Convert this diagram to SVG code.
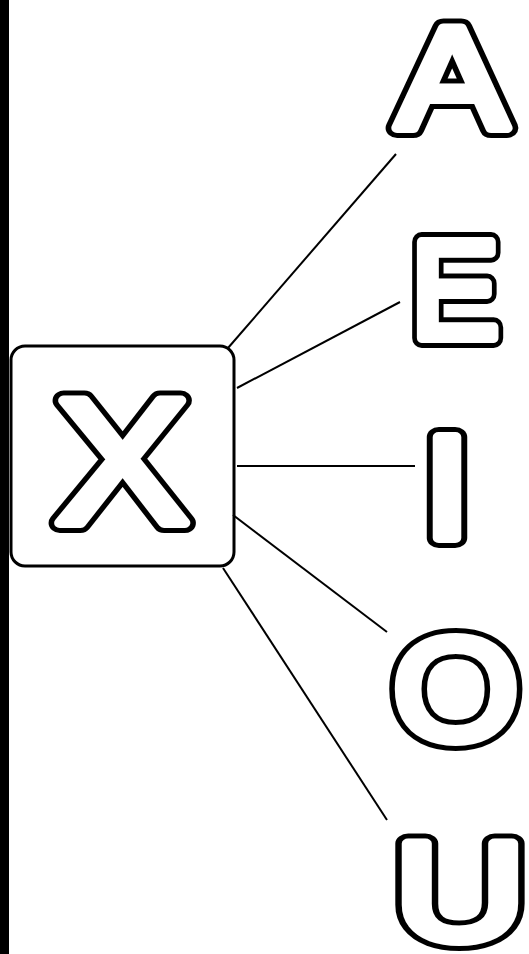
<svg xmlns="http://www.w3.org/2000/svg" width="529" height="954" viewBox="0 0 529 954">
<style>
.o{font-family:"Liberation Sans",Arial,sans-serif;text-anchor:middle;fill:#000;stroke:#000;stroke-width:20;stroke-linejoin:round;stroke-linecap:round}
.i{font-family:"Liberation Sans",Arial,sans-serif;text-anchor:middle;fill:#fff;stroke:#fff;stroke-width:10;stroke-linejoin:round;stroke-linecap:round}
.c{stroke:#000;stroke-width:2;fill:none}
</style>
<rect width="529" height="954" fill="#fff"/>
<rect x="0" y="0" width="9" height="954" fill="#000"/>
<g id="node-X">
<rect x="11" y="346" width="223" height="220" rx="14" fill="#fff" stroke="#000" stroke-width="3"/>
<g transform="translate(122,523) scale(1.12,1)">
<text class="o" x="0" y="0" font-size="179">X</text>
<text class="i" x="0" y="0" font-size="179">X</text>
</g>
</g>
<g id="node-A">
<g transform="translate(452,128) scale(1.15,1)">
<text class="o" x="0" y="0" font-size="144">A</text>
<text class="i" x="0" y="0" font-size="144">A</text>
</g>
</g>
<g id="node-E">
<g transform="translate(455,338) scale(0.95,1)">
<text class="o" x="0" y="0" font-size="140">E</text>
<text class="i" x="0" y="0" font-size="140">E</text>
</g>
</g>
<g id="node-I">
<g transform="translate(447,538) scale(1.2,1)">
<text class="o" x="0" y="0" font-size="147">I</text>
<text class="i" x="0" y="0" font-size="147">I</text>
</g>
</g>
<g id="node-O">
<g transform="translate(456,740) scale(1.12,1)">
<text class="o" x="0" y="0" font-size="145">O</text>
<text class="i" x="0" y="0" font-size="145">O</text>
</g>
</g>
<g id="node-U">
<g transform="translate(460,940) scale(1.3,1)">
<text class="o" x="0" y="0" font-size="140">U</text>
<text class="i" x="0" y="0" font-size="140">U</text>
</g>
</g>
<g id="connectors">
<line class="c" x1="228" y1="348" x2="396" y2="154"/>
<line class="c" x1="237" y1="388" x2="400" y2="302"/>
<line class="c" x1="237" y1="466" x2="415" y2="466"/>
<line class="c" x1="233" y1="515" x2="387" y2="632"/>
<line class="c" x1="223" y1="568" x2="387" y2="820"/>
</g>
</svg>
